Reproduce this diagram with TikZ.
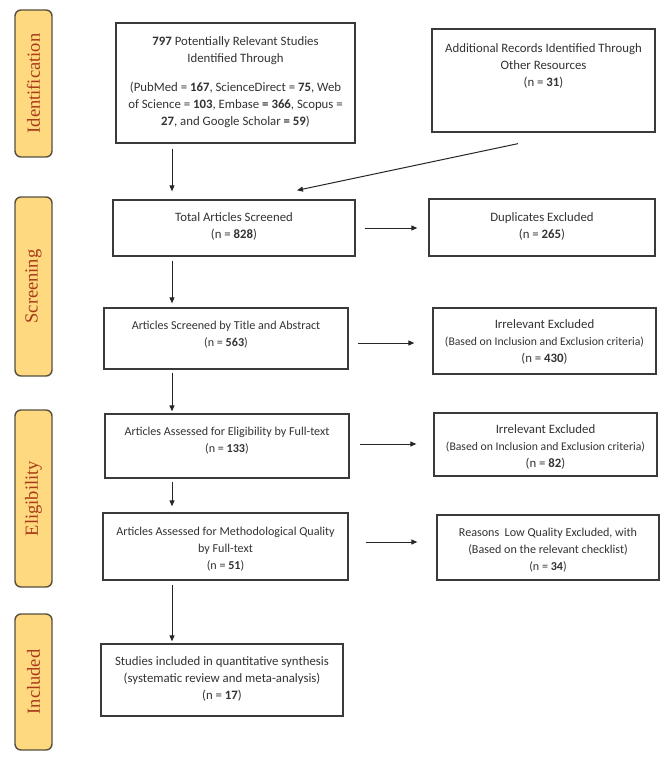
\documentclass[tikz,border=0pt]{standalone}
\usepackage{fontspec}
\setmainfont{Carlito}
\newfontfamily\barfont{Liberation Serif}
\usetikzlibrary{arrows.meta,calc}
\definecolor{barfill}{HTML}{FFD97F}
\definecolor{barline}{HTML}{55503F}
\definecolor{bartext}{HTML}{A83A1A}
\definecolor{boxline}{HTML}{3A3A3A}
\definecolor{txtcol}{HTML}{333333}
\newcommand{\smalltxt}[1]{{\fontsize{11.7}{17}\selectfont #1}}
\begin{document}
\begin{tikzpicture}[x=1pt,y=-1pt,
  stagebar/.style={draw=barline, line width=1.4pt, fill=barfill, rounded corners=6pt,
    rotate=90, minimum height=37pt, inner sep=0pt,
    font=\barfont\fontsize{18.5}{18.5}\selectfont, text=bartext},
  flowbox/.style={draw=boxline, line width=1.3pt, inner sep=0pt},
  boxtext/.style={align=center, text=txtcol, font=\fontsize{12.8}{17}\selectfont, inner sep=0pt},
  boxtextsm/.style={boxtext, font=\fontsize{12.1}{17}\selectfont},
  arr/.style={draw=black!85, line width=1pt, -{Triangle[length=6pt,width=5pt]}}
]
\useasboundingbox (0,0) rectangle (669,762);
\fill[white] (0,0) rectangle (669,762);

% stage bars
\node[stagebar, minimum width=147pt] (ident) at (33.5,83.5) {Identification};
\node[stagebar, minimum width=179pt] (screen) at (33.5,286.5) {Screening};
\node[stagebar, minimum width=177pt] (elig) at (33.5,498.5) {Eligibility};
\node[stagebar, minimum width=136pt] (incl) at (33.5,682) {Included};

% boxes
\node[flowbox, minimum width=239pt, minimum height=120pt] (box1) at (235.5,83) {};
\node[flowbox, minimum width=223pt, minimum height=103pt] (box2) at (543.5,80.5) {};
\node[flowbox, minimum width=242pt, minimum height=56pt] (box3) at (234,228) {};
\node[flowbox, minimum width=226pt, minimum height=57pt] (box4) at (542,227.5) {};
\node[flowbox, minimum width=244pt, minimum height=61pt] (box5) at (226,338.5) {};
\node[flowbox, minimum width=223pt, minimum height=66pt] (box6) at (544.5,341) {};
\node[flowbox, minimum width=244pt, minimum height=64pt] (box7) at (227,446) {};
\node[flowbox, minimum width=223pt, minimum height=63pt] (box8) at (545.5,444.5) {};
\node[flowbox, minimum width=245pt, minimum height=67pt] (box9) at (225.5,546.5) {};
\node[flowbox, minimum width=222pt, minimum height=65pt] (box10) at (548,547.5) {};
\node[flowbox, minimum width=242pt, minimum height=72pt] (box11) at (222,680) {};

% texts
\node[boxtext] (t1) at (235.5,82.5) {\textbf{797} Potentially Relevant Studies\\ Identified Through\\[12pt]
  (PubMed = \textbf{167}, ScienceDirect = \textbf{75}, Web\\ of Science = \textbf{103}, Embase \textbf{= 366}, Scopus =\\
  \textbf{27}, and Google Scholar \textbf{= 59})};
\node[boxtext] (t2) at (543.5,65.5) {Additional Records Identified Through\\ Other Resources\\ (n = \textbf{31})};
\node[boxtext] (t3) at (234,226.5) {Total Articles Screened\\ (n = \textbf{828})};
\node[boxtext] (t4) at (542,226) {Duplicates Excluded\\ (n = \textbf{265})};
\node[boxtextsm] (t5) at (226,334.5) {Articles Screened by Title and Abstract\\ (n = \textbf{563})};
\node[boxtext] (t6) at (544.5,342) {Irrelevant Excluded\\ \smalltxt{(Based on Inclusion and Exclusion criteria)}\\ (n = \textbf{430})};
\node[boxtextsm] (t7) at (227,441) {Articles Assessed for Eligibility by Full-text\\ (n = \textbf{133})};
\node[boxtext] (t8) at (545.5,446.5) {Irrelevant Excluded\\ \smalltxt{(Based on Inclusion and Exclusion criteria)}\\ (n = \textbf{82})};
\node[boxtextsm] (t9) at (225.5,549) {Articles Assessed for Methodological Quality\\ by Full-text\\ (n = \textbf{51})};
\node[boxtextsm] (t10) at (548,550) {Reasons\ \ Low Quality Excluded, with\\ (Based on the relevant checklist)\\ (n = \textbf{34})};
\node[boxtext] (t11) at (222,679) {Studies included in quantitative synthesis\\ (systematic review and meta-analysis)\\ (n = \textbf{17})};

% connectors
\coordinate (spine) at (172,0);
\draw[arr] ($(box1.south -| spine)+(0,5)$) -- ($(box3.north -| spine)+(0,-8)$);
\draw[arr] ($(box2.south)+(-25.5,11)$) -- ($(box3.north)+(63,-9)$);
\draw[arr] ($(box3.south -| spine)+(0,4)$) -- ($(box5.north -| spine)+(0,-4)$);
\draw[arr] ($(box5.south -| spine)+(0,3)$) -- ($(box7.north -| spine)+(0,-2)$);
\draw[arr] ($(box7.south -| spine)+(0,3)$) -- ($(box9.north -| spine)+(0,-6)$);
\draw[arr] ($(box9.south -| spine)+(0,4)$) -- ($(box11.north -| spine)+(0,-2)$);
\draw[arr] ($(box3.east)+(9,0)$) -- ($(box4.west)+(-11,0.5)$);
\draw[arr] ($(box5.east)+(9,4.5)$) -- ($(box6.west)+(-18,2)$);
\draw[arr] ($(box7.east)+(10,-2)$) -- ($(box8.west)+(-17,-0.5)$);
\draw[arr] ($(box9.east)+(17,-4.5)$) -- ($(box10.west)+(-19,-5.5)$);
\end{tikzpicture}
\end{document}
